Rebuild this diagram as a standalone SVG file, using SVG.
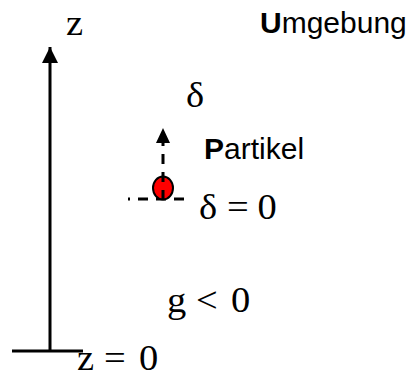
<svg xmlns="http://www.w3.org/2000/svg" width="409" height="378" viewBox="0 0 409 378">
<style>
.m{font-family:"Liberation Serif","Times New Roman",serif;font-size:35px;fill:#000}
.s{font-family:"Liberation Sans",Arial,sans-serif;font-size:30px;fill:#000}
.b{font-weight:bold}
.ln{stroke:#000;stroke-width:3;fill:none}
.dash{stroke:#000;stroke-width:3;fill:none;stroke-dasharray:10 8}
</style>
<defs>
<marker id="ah" markerUnits="userSpaceOnUse" markerWidth="16" markerHeight="16" viewBox="0 0 16 16" refX="16" refY="8" orient="auto">
<path d="M0,0 L16,8 L0,16 Z" fill="#000"/>
</marker>
<marker id="ah2" markerUnits="userSpaceOnUse" markerWidth="15" markerHeight="16" viewBox="0 0 15 16" refX="15" refY="8" orient="auto">
<path d="M0,1 L15,8 L0,15 Z" fill="#000"/>
</marker>
</defs>
<g id="connectors">
<line class="ln" x1="50" y1="351" x2="50" y2="47" marker-end="url(#ah)"/>
<line class="ln" x1="12" y1="351" x2="83" y2="351"/>
<line class="dash" x1="128" y1="199" x2="187" y2="199" stroke-dashoffset="8"/>
</g>
<g id="particle">
<ellipse cx="163" cy="188" rx="10" ry="11.5" fill="#ff0000" stroke="#000" stroke-width="2"/>
<line class="dash" x1="163" y1="200" x2="163" y2="128" marker-end="url(#ah2)"/>
</g>
<g id="labels">
<text class="m" transform="translate(66,35) scale(1.1,1)">z</text>
<text class="m" transform="translate(186,107) scale(1.1,1)">δ</text>
<text class="m" transform="translate(199,219) scale(1.1,1)">δ<tspan x="25.5">=</tspan><tspan x="53.2">0</tspan></text>
<text class="m" transform="translate(167,312) scale(1.1,1)">g<tspan x="26.4">&lt;</tspan><tspan x="58.2">0</tspan></text>
<text class="m" transform="translate(77,370) scale(1.1,1)">z<tspan x="24.5">=</tspan><tspan x="56.4">0</tspan></text>
<text class="s" x="260" y="33"><tspan class="b">U</tspan>mgebung</text>
<text class="s" x="204" y="159"><tspan class="b">P</tspan>artikel</text>
</g>
</svg>
